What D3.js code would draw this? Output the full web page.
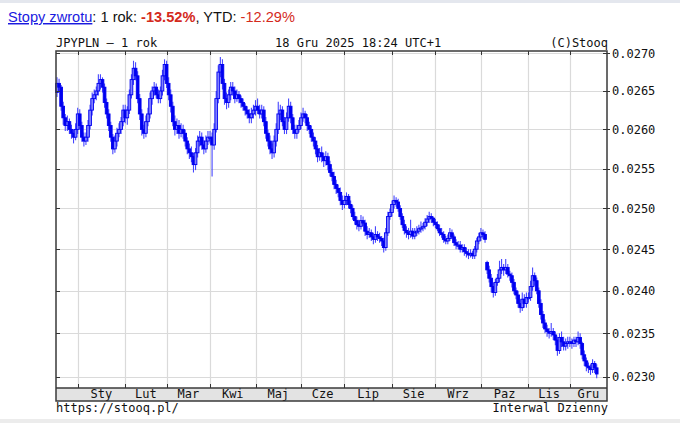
<!DOCTYPE html>
<html><head><meta charset="utf-8">
<script src="https://cdn.jsdelivr.net/npm/d3@7"></script>
<style>
html,body{margin:0;padding:0;background:#fff;}
svg{display:block;}
</style></head>
<body>
<svg id="c" width="680" height="423"></svg>
<script>
// ---- DATA (values in units of 1e-5 PLN per JPY) ----
const UNIT = 1e-5;
const opens = [
2648,2660,2655,2630,2615,2605,2610,2600,2595,2590,
2600,2620,2605,2590,2585,2590,2605,2625,2640,2645,2650,2660,2665,2655,2635,2620,2605,2590,2575,2585,2595,2600,2610,
2625,2615,2625,2645,2665,2680,2670,2640,2620,2600,2595,2610,2620,2640,2650,2655,2645,2640,2650,2670,
2685,2660,2645,2630,2610,2600,2605,2595,2600,2595,2585,2575,2570,2565,2555,2570,2585,2590,2580,2575,2585,
2590,2590,2580,2600,2640,2675,2685,2660,2640,2635,2645,2655,2650,2640,2645,2640,2635,2630,2625,2620,2615,2620,
2625,2630,2625,2620,2625,2610,2595,2585,2575,2570,2585,2600,2620,2625,2610,2600,2615,2630,2615,2600,2595,2600,
2605,2615,2620,2615,2605,2600,2590,2585,2575,2565,2570,2565,2560,2565,2555,2545,2540,2530,2525,2520,2510,
2505,2510,2515,2505,2500,2490,2485,2480,2478,2485,2482,2472,2468,2470,2465,2462,2468,2465,2463,2460,2452,2470,2490,
2495,2505,2510,2508,2500,2490,2480,2473,2470,2468,2472,2466,2470,2472,2475,2476,2478,2483,2487,2490,2488,
2483,2480,2475,2470,2468,2462,2460,2463,2470,2465,2458,2455,2455,2450,2452,2447,2445,2443,2445,2442,2450,2460,
2465,2470,2468,2434,2425,2415,2405,2398,2410,2415,2425,2428,2425,2428,2420,2418,2410,2400,2395,2385,2380,2390,2385,
2392,2392,2405,2418,2412,2400,2385,2372,2362,2355,2352,2350,2352,2348,2342,2330,2345,2340,2335,2338,
2340,2340,2338,2342,2340,2345,2338,2325,2318,2312,2310,2308,2315,2310];
const highs = [
2668,2666,2658,2636,2620,2618,2614,2606,2600,2608,
2628,2626,2610,2596,2596,2612,2632,2648,2652,2656,2672,2672,2668,2660,2640,2626,2610,2594,2592,2602,2608,2616,2632,
2632,2630,2652,2672,2690,2688,2676,2646,2626,2606,2618,2628,2648,2656,2662,2660,2652,2656,2678,2692,
2690,2668,2652,2636,2618,2614,2612,2608,2606,2600,2590,2582,2578,2570,2576,2592,2598,2596,2586,2592,2598,
2598,2596,2608,2650,2684,2695,2692,2666,2648,2652,2662,2662,2656,2652,2650,2644,2640,2634,2630,2626,2628,2632,
2638,2640,2632,2632,2630,2616,2600,2592,2582,2592,2608,2636,2632,2630,2616,2622,2640,2636,2620,2606,2606,2612,
2622,2628,2624,2620,2610,2605,2596,2590,2580,2576,2578,2570,2572,2570,2560,2550,2546,2536,2530,2526,2516,
2516,2520,2518,2510,2504,2496,2490,2486,2492,2490,2486,2478,2476,2474,2470,2478,2472,2470,2466,2464,2476,2496,2500,
2510,2516,2514,2512,2504,2494,2486,2478,2476,2486,2476,2476,2478,2480,2484,2482,2488,2492,2496,2494,2490,
2487,2484,2480,2476,2472,2466,2468,2476,2474,2468,2462,2460,2460,2456,2456,2452,2450,2450,2448,2454,2464,2470,
2476,2474,2472,2436,2430,2420,2410,2414,2420,2436,2438,2432,2438,2432,2424,2422,2414,2404,2400,2390,2398,2396,2398,
2398,2412,2428,2422,2416,2404,2390,2376,2366,2360,2356,2362,2356,2352,2346,2350,2352,2346,2344,2346,
2346,2344,2346,2346,2352,2350,2340,2330,2322,2316,2314,2320,2318,2314];
const lows = [
2642,2650,2624,2606,2598,2598,2594,2588,2582,2586,
2594,2600,2584,2578,2580,2584,2600,2618,2634,2638,2644,2652,2648,2628,2614,2598,2584,2568,2570,2578,2590,2594,2604,
2608,2606,2620,2640,2658,2664,2634,2612,2592,2588,2590,2604,2614,2632,2644,2640,2634,2634,2644,2664,
2654,2638,2622,2604,2592,2594,2588,2590,2588,2578,2568,2562,2558,2545,2548,2564,2578,2574,2568,2570,2580,
2582,2540,2574,2596,2634,2668,2652,2632,2626,2628,2638,2644,2634,2636,2634,2628,2624,2618,2614,2608,2608,2614,
2618,2620,2614,2614,2604,2588,2578,2568,2562,2564,2578,2594,2612,2604,2594,2594,2610,2608,2594,2588,2588,2596,
2600,2610,2608,2598,2594,2584,2578,2568,2558,2560,2558,2552,2554,2548,2540,2534,2524,2518,2514,2504,2498,
2500,2504,2500,2494,2486,2480,2474,2472,2474,2478,2466,2462,2464,2460,2456,2458,2460,2458,2454,2446,2448,2466,2486,
2490,2500,2502,2496,2486,2476,2468,2464,2462,2464,2462,2462,2466,2468,2470,2472,2474,2478,2482,2482,2478,
2476,2472,2466,2464,2458,2456,2456,2460,2462,2454,2450,2450,2446,2446,2442,2440,2438,2440,2438,2438,2446,2456,
2460,2462,2458,2420,2410,2398,2392,2394,2406,2410,2420,2418,2420,2416,2412,2404,2396,2390,2380,2374,2376,2380,2380,
2386,2388,2400,2406,2396,2380,2366,2356,2350,2346,2344,2346,2342,2336,2324,2326,2334,2330,2330,2332,
2334,2332,2334,2334,2336,2332,2320,2312,2306,2304,2302,2304,2304,2298];
const closes = [
2660,2655,2630,2615,2605,2610,2600,2595,2590,2600,
2620,2605,2590,2585,2590,2605,2625,2640,2645,2650,2660,2665,2655,2635,2620,2605,2590,2575,2585,2595,2600,2610,2625,
2615,2625,2645,2665,2680,2670,2640,2620,2600,2595,2610,2620,2640,2650,2655,2645,2640,2650,2670,2685,
2660,2645,2630,2610,2600,2605,2595,2600,2595,2585,2575,2570,2565,2555,2570,2585,2590,2580,2575,2585,2590,
2590,2580,2600,2640,2675,2685,2660,2640,2635,2645,2655,2650,2640,2645,2640,2635,2630,2625,2620,2615,2620,2625,
2630,2625,2620,2625,2610,2595,2585,2575,2570,2585,2600,2620,2625,2610,2600,2615,2630,2615,2600,2595,2600,2605,
2615,2620,2615,2605,2600,2590,2585,2575,2565,2570,2565,2560,2565,2555,2545,2540,2530,2525,2520,2510,2505,
2510,2515,2505,2500,2490,2485,2480,2478,2485,2482,2472,2468,2470,2465,2462,2468,2465,2463,2460,2452,2470,2490,2495,
2505,2510,2508,2500,2490,2480,2473,2470,2468,2472,2466,2470,2472,2475,2476,2478,2483,2487,2490,2488,2483,
2480,2475,2470,2468,2462,2460,2463,2470,2465,2458,2455,2455,2450,2452,2447,2445,2443,2445,2442,2450,2460,2465,
2470,2468,2462,2425,2415,2405,2398,2410,2415,2425,2428,2425,2428,2420,2418,2410,2400,2395,2385,2380,2390,2385,2392,
2392,2405,2418,2412,2400,2385,2372,2362,2355,2352,2350,2352,2348,2342,2330,2345,2340,2335,2338,2340,
2340,2338,2342,2340,2345,2338,2325,2318,2312,2310,2308,2315,2310,2303];
const yTicks = [0.0230,0.0235,0.0240,0.0245,0.0250,0.0255,0.0260,0.0265,0.0270];
const monthLabels = ["Sty","Lut","Mar","Kwi","Maj","Cze","Lip","Sie","Wrz","Paz","Lis","Gru"];
const startDate = new Date(2024,11,18), endDate = new Date(2025,11,19);

// trading days (weekdays) as categories
const days = d3.timeDay.range(startDate, endDate).filter(d => d.getDay() !== 0 && d.getDay() !== 6);
const data = days.map((d,i) => ({d, o:opens[i]*UNIT, h:highs[i]*UNIT, l:lows[i]*UNIT, c:closes[i]*UNIT}));

const L=56, R=607, T=51, B=388, BB=401;
const x = d3.scalePoint().domain(d3.range(days.length)).range([57, 596.7]);
const y = d3.scaleLog().domain([0.0230, 0.0270]).range([376.6, 53.3]);

const svg = d3.select("#c");
const mono = "'DejaVu Sans Mono', monospace";

// top/bottom page bands
svg.append("rect").attr("x",0).attr("y",0).attr("width",680).attr("height",3).attr("fill","#e4e7ee");
svg.append("rect").attr("x",0).attr("y",419).attr("width",680).attr("height",4).attr("fill","#ececec");

// header
const hdr = svg.append("text").attr("x",8).attr("y",22)
  .attr("font-family","'Liberation Sans', Arial, sans-serif").attr("font-size","14.6px").attr("fill","#111");
hdr.append("tspan").text("Stopy zwrotu").attr("fill","#1a1adf").attr("text-decoration","underline");
hdr.append("tspan").text(": 1 rok: ");
hdr.append("tspan").text("-13.52%").attr("fill","#d42a1c").attr("font-weight","bold");
hdr.append("tspan").text(", YTD: ");
hdr.append("tspan").text("-12.29%").attr("fill","#d42a1c");

// chart titles
svg.append("text").attr("x",L).attr("y",46.5).attr("font-family",mono).attr("font-size","12px").attr("fill","#111").text("JPYPLN – 1 rok");
svg.append("text").attr("x",275).attr("y",46.5).attr("font-family",mono).attr("font-size","12px").attr("fill","#111").text("18 Gru 2025 18:24 UTC+1");
svg.append("text").attr("x",608).attr("y",46.5).attr("text-anchor","end").attr("font-family",mono).attr("font-size","12px").attr("fill","#111").text("(C)Stooq");

// month boundaries
const monthStarts = [];
data.forEach((p,i) => { if (i>0 && p.d.getMonth() !== data[i-1].d.getMonth()) monthStarts.push(i); });
const gx = monthStarts.map(i => x(i));

// grid
const g = svg.append("g");
g.selectAll(".hg").data(yTicks).join("line")
  .attr("x1",L).attr("x2",R).attr("y1",d=>Math.round(y(d))+0.5).attr("y2",d=>Math.round(y(d))+0.5)
  .attr("stroke","#dadada").attr("stroke-width",1.2);
g.selectAll(".vg").data(gx).join("line")
  .attr("x1",d=>Math.round(d)+0.5).attr("x2",d=>Math.round(d)+0.5).attr("y1",T).attr("y2",B)
  .attr("stroke","#dadada").attr("stroke-width",1.2);

// candles
const cg = svg.append("g");
cg.selectAll(".w").data(data).join("line")
  .attr("x1",(p,i)=>x(i)).attr("x2",(p,i)=>x(i))
  .attr("y1",p=>y(p.h)).attr("y2",p=>y(p.l))
  .attr("stroke","#4646ff").attr("stroke-width",1.1);
cg.selectAll(".b").data(data).join("rect")
  .attr("x",(p,i)=>x(i)-1.35).attr("width",2.7)
  .attr("y",p=>y(Math.max(p.o,p.c)))
  .attr("height",p=>Math.max(1.2, y(Math.min(p.o,p.c))-y(Math.max(p.o,p.c))))
  .attr("fill",p=> p.c>=p.o ? "#8080ff" : "#0000f0")
  .attr("stroke","#0000f0").attr("stroke-width",0.9);

// x band
svg.append("rect").attr("x",L).attr("y",B).attr("width",R-L).attr("height",BB-B).attr("fill","#e3e3e3");
const mids = gx.map((v,i)=> (v + (i+1<gx.length ? gx[i+1] : R))/2);
svg.selectAll(".ml").data(monthLabels).join("text")
  .attr("x",(d,i)=>mids[i]).attr("y",398).attr("text-anchor","middle")
  .attr("font-family",mono).attr("font-size","12px").attr("fill","#111").text(d=>d);

// ticks at month boundaries (top and bottom)
svg.selectAll(".tt").data(gx).join("line")
  .attr("x1",d=>Math.round(d)+0.5).attr("x2",d=>Math.round(d)+0.5).attr("y1",T).attr("y2",T+4)
  .attr("stroke","#333").attr("stroke-width",1);
svg.selectAll(".bt").data(gx).join("line")
  .attr("x1",d=>Math.round(d)+0.5).attr("x2",d=>Math.round(d)+0.5).attr("y1",B-4).attr("y2",B)
  .attr("stroke","#333").attr("stroke-width",1);

// y ticks & labels
svg.selectAll(".yt").data(yTicks).join("line")
  .attr("x1",R-4).attr("x2",R+3).attr("y1",d=>Math.round(y(d))+0.5).attr("y2",d=>Math.round(y(d))+0.5)
  .attr("stroke","#333");
svg.selectAll(".ytl").data(yTicks).join("line")
  .attr("x1",L).attr("x2",L+4).attr("y1",d=>Math.round(y(d))+0.5).attr("y2",d=>Math.round(y(d))+0.5)
  .attr("stroke","#333");
svg.selectAll(".yl").data(yTicks).join("text")
  .attr("x",612).attr("y",d=>y(d)+4.3)
  .attr("font-family",mono).attr("font-size","12px").attr("fill","#111").text(d=>d.toFixed(4));

// borders
svg.append("rect").attr("x",L).attr("y",T).attr("width",R-L).attr("height",BB-T)
  .attr("fill","none").attr("stroke","#3a3a3a").attr("stroke-width",1.5);
svg.append("line").attr("x1",L).attr("x2",R).attr("y1",B).attr("y2",B).attr("stroke","#3a3a3a").attr("stroke-width",1.5);

// footer
svg.append("text").attr("x",L).attr("y",411.5).attr("font-family",mono).attr("font-size","12px").attr("fill","#111").text("https://stooq.pl/");
svg.append("text").attr("x",608).attr("y",411.5).attr("text-anchor","end").attr("font-family",mono).attr("font-size","12px").attr("fill","#111").text("Interwal Dzienny");
</script>
</body></html>
